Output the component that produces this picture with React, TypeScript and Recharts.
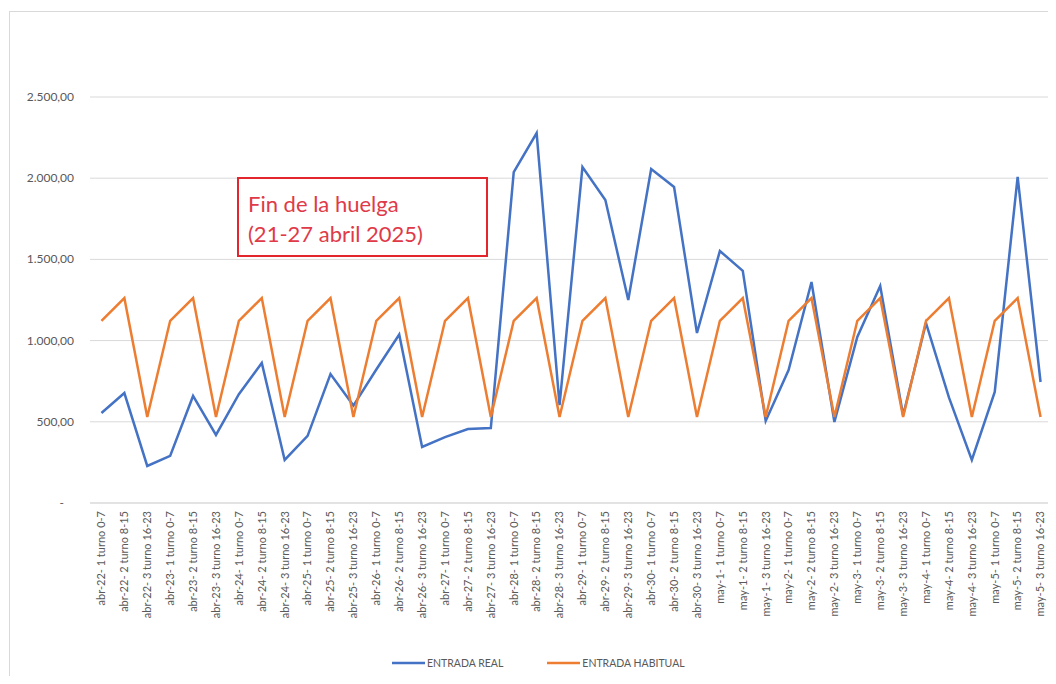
import React from "react";
import {
  LineChart,
  Line,
  XAxis,
  YAxis,
  CartesianGrid,
  Legend,
} from "recharts";

// Days and shifts that make up the category axis
const days = [
  "abr-22", "abr-23", "abr-24", "abr-25", "abr-26", "abr-27", "abr-28",
  "abr-29", "abr-30", "may-1", "may-2", "may-3", "may-4", "may-5",
];
const shifts = ["1 turno 0-7", "2 turno 8-15", "3 turno 16-23"];

// Actual entries per shift
const entradaReal = [
  554, 677, 228,
  290, 659, 419,
  670, 862, 265,
  413, 794, 600,
  822, 1037, 345,
  406, 455, 462,
  2038, 2278, 603,
  2069, 1866, 1250,
  2056, 1946, 1047,
  1552, 1429, 505,
  819, 1361, 499,
  1022, 1336, 540,
  1108, 650, 265,
  684, 2008, 745,
];

// Usual entries per shift
const entradaHabitual = [
  1122, 1262, 530,
  1122, 1262, 530,
  1122, 1262, 530,
  1122, 1262, 530,
  1122, 1262, 530,
  1122, 1262, 530,
  1122, 1262, 530,
  1122, 1262, 530,
  1122, 1262, 530,
  1122, 1262, 530,
  1122, 1262, 530,
  1122, 1262, 530,
  1122, 1262, 530,
  1122, 1262, 530,
];

const yTicks = [0, 500, 1000, 1500, 2000, 2500];

const categories: string[] = [];
days.forEach((d) => shifts.forEach((s) => categories.push(`${d}- ${s}`)));

const data = categories.map((name, i) => ({
  name,
  real: entradaReal[i],
  habitual: entradaHabitual[i],
}));

const BLUE = "#4472C4";
const ORANGE = "#ED7D31";
const GRAY_TEXT = "#595959";
const FONT = "Lato, 'Open Sans', sans-serif";

const fmt = (v: number) => {
  const fixed = v.toFixed(2);
  const [int, dec] = fixed.split(".");
  const withDots = int.replace(/\B(?=(\d{3})+(?!\d))/g, ".");
  return `${withDots},${dec}`;
};

const YTick = (props: any) => {
  const { x, y, payload } = props;
  const v = payload.value as number;
  return (
    <text
      x={v === 0 ? x - 10 : x}
      y={y}
      dy={4}
      textAnchor="end"
      fill={GRAY_TEXT}
      fontSize={12}
      fontFamily={FONT}
    >
      {v === 0 ? "-" : fmt(v)}
    </text>
  );
};

const XTick = (props: any) => {
  const { x, y, payload } = props;
  return (
    <text
      x={x}
      y={y}
      transform={`rotate(-90, ${x}, ${y})`}
      dy="0.35em"
      textAnchor="end"
      fill={GRAY_TEXT}
      fontSize={11}
      fontFamily={FONT}
    >
      {payload.value}
    </text>
  );
};

const legendItems = [
  { label: "ENTRADA REAL", color: BLUE },
  { label: "ENTRADA HABITUAL", color: ORANGE },
];

const LegendContent = () => (
  <div
    style={{
      boxSizing: "border-box",
      height: 33,
      paddingTop: 7,
      paddingLeft: 362,
      display: "flex",
      alignItems: "center",
      fontFamily: FONT,
      fontSize: 10.5,
      color: GRAY_TEXT,
    }}
  >
    {legendItems.map((it, i) => (
      <div
        key={it.label}
        style={{ display: "flex", alignItems: "center", marginLeft: i ? 44 : 0 }}
      >
        <svg width={33} height={6}>
          <line x1={0} y1={3} x2={33} y2={3} stroke={it.color} strokeWidth={2.5} />
        </svg>
        <span style={{ marginLeft: 2 }}>{it.label}</span>
      </div>
    ))}
  </div>
);

export default function App() {
  return (
    <div
      style={{
        position: "relative",
        width: 1048,
        height: 668,
        overflow: "hidden",
        background: "#fff",
      }}
    >
      {/* frame around the chart */}
      <div
        style={{
          position: "absolute",
          left: 1,
          top: 3,
          right: 0,
          bottom: 0,
          borderLeft: "1px solid #d9d9d9",
          borderTop: "1px solid #d9d9d9",
        }}
      />
      <LineChart
        width={1048}
        height={668}
        data={data}
        margin={{ top: 89, right: 4, left: 22, bottom: 0 }}
      >
        <CartesianGrid vertical={false} stroke="#d9d9d9" strokeWidth={1} />
        <XAxis
          dataKey="name"
          scale="band"
          interval={0}
          height={140}
          tick={<XTick />}
          tickLine={false}
          tickSize={0}
          tickMargin={8}
          axisLine={{ stroke: "#d9d9d9", strokeWidth: 1 }}
        />
        <YAxis
          width={60}
          domain={[0, 2500]}
          ticks={yTicks}
          tick={<YTick />}
          tickLine={false}
          tickSize={0}
          tickMargin={16}
          axisLine={false}
        />
        <Legend verticalAlign="bottom" height={33} content={<LegendContent />} />
        <Line
          type="linear"
          dataKey="real"
          name="ENTRADA REAL"
          stroke={BLUE}
          strokeWidth={2.5}
          dot={false}
          isAnimationActive={false}
        />
        <Line
          type="linear"
          dataKey="habitual"
          name="ENTRADA HABITUAL"
          stroke={ORANGE}
          strokeWidth={2.5}
          dot={false}
          isAnimationActive={false}
        />
      </LineChart>
      {/* callout box */}
      <div
        style={{
          position: "absolute",
          left: 229,
          top: 169,
          width: 251,
          height: 80,
          boxSizing: "border-box",
          border: "2px solid #e3262e",
          background: "#fff",
          paddingLeft: 9,
          paddingTop: 10,
          fontFamily: FONT,
          fontSize: 22,
          lineHeight: "30px",
          color: "#e03a48",
          whiteSpace: "nowrap",
        }}
      >
        Fin de la huelga
        <br />
        (21-27 abril 2025)
      </div>
    </div>
  );
}
